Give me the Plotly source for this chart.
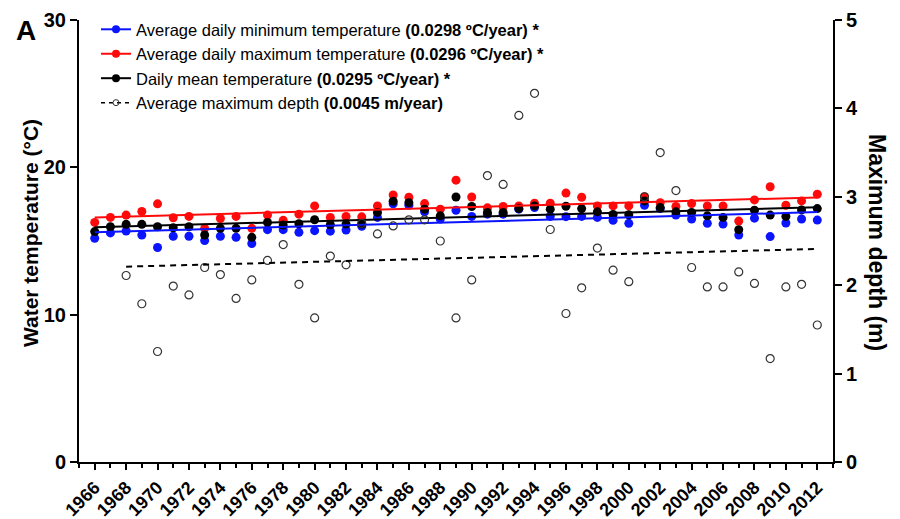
import plotly.graph_objects as go

years = list(range(1966, 2013))

t_min = [15.19, 15.55, 15.68, 15.41, 14.56, 15.32, 15.32, 15.03, 15.32, 15.25,
         14.83, 15.77, 15.77, 15.59, 15.70, 15.67, 15.75, 16.00, 16.60, 17.52,
         17.43, 16.98, 16.49, 17.09, 16.67, 16.82, 16.82, 17.16, 17.27, 16.67,
         16.65, 16.67, 16.60, 16.40, 16.20, 17.43, 17.20, 16.76, 16.49, 16.20,
         16.15, 15.41, 16.55, 15.30, 16.22, 16.49, 16.42]

t_max = [16.26, 16.60, 16.76, 17.00, 17.52, 16.58, 16.67, 15.86, 16.53, 16.67,
         15.86, 16.76, 16.40, 16.82, 17.38, 16.60, 16.67, 16.64, 17.38, 18.12,
         17.97, 17.54, 17.16, 19.13, 17.99, 17.25, 17.34, 17.38, 17.56, 17.56,
         18.25, 17.97, 17.38, 17.38, 17.38, 18.01, 17.60, 17.34, 17.54, 17.38,
         17.38, 16.35, 17.79, 18.68, 17.43, 17.72, 18.17]

t_mean = [15.64, 15.97, 16.13, 16.13, 15.97, 15.90, 15.97, 15.41, 15.86, 15.86,
          15.25, 16.26, 16.08, 16.17, 16.44, 16.10, 16.15, 16.15, 16.94, 17.70,
          17.60, 17.16, 16.71, 17.99, 17.34, 16.94, 16.94, 17.20, 17.38, 17.16,
          17.36, 17.20, 16.98, 16.80, 16.78, 17.72, 17.27, 16.98, 16.94, 16.71,
          16.60, 15.77, 17.09, 16.76, 16.67, 17.11, 17.20]

depth = [None, None, 2.11, 1.79, 1.25, 1.99, 1.89, 2.20, 2.12, 1.85,
         2.06, 2.28, 2.46, 2.01, 1.63, 2.33, 2.23, 2.70, 2.58, 2.67,
         2.74, 2.74, 2.50, 1.63, 2.06, 3.24, 3.14, 3.92, 4.17, 2.63,
         1.68, 1.97, 2.42, 2.17, 2.04, 3.00, 3.50, 3.07, 2.20, 1.98,
         1.98, 2.15, 2.02, 1.17, 1.98, 2.01, 1.55]

trend_years = [1966, 2012]
trend_min = [15.59, 16.96]
trend_max = [16.60, 17.96]
trend_mean = [15.93, 17.29]
depth_trend_years = [1968, 2012]
depth_trend = [2.21, 2.41]

labels = [
    "Average daily minimum temperature <b>(0.0298 ºC/year)</b> <b>*</b>",
    "Average daily maximum temperature <b>(0.0296 ºC/year)</b> <b>*</b>",
    "Daily mean temperature <b>(0.0295 ºC/year)</b> <b>*</b>",
    "Average maximum depth <b>(0.0045 m/year)</b>",
]

BLUE = "#0a14ff"
RED = "#ff0a0a"
BLACK = "#000000"
FONT = "Arial, Liberation Sans, sans-serif"

L, R, T, B = 79, 67, 16, 57
PW, PH = 900 - L - R, 519 - T - B


def px_x(p):
    return (p - L) / PW


def px_y(p):
    return (519 - B - p) / PH


fig = go.Figure()

# depth (right axis), drawn first so it sits beneath
fig.add_trace(go.Scatter(x=years, y=depth, mode="markers", yaxis="y2",
                         marker=dict(symbol="circle-open", size=8,
                                     color="#333333", line=dict(width=1.2)),
                         showlegend=False))
fig.add_trace(go.Scatter(x=depth_trend_years, y=depth_trend, mode="lines", yaxis="y2",
                         line=dict(color="black", width=2, dash="6px,5px"),
                         showlegend=False))

for vals, col in [(t_min, BLUE), (t_max, RED), (t_mean, BLACK)]:
    fig.add_trace(go.Scatter(x=years, y=vals, mode="markers",
                             marker=dict(color=col, size=9),
                             showlegend=False))

for tv, col in [(trend_min, BLUE), (trend_max, RED), (trend_mean, BLACK)]:
    fig.add_trace(go.Scatter(x=trend_years, y=tv, mode="lines",
                             line=dict(color=col, width=2),
                             showlegend=False))

# legend entries
for lab, col in zip(labels[:3], [BLUE, RED, BLACK]):
    fig.add_trace(go.Scatter(x=[None], y=[None], mode="lines+markers", name=lab,
                             marker=dict(color=col, size=8),
                             line=dict(color=col, width=2)))
fig.add_trace(go.Scatter(x=[None], y=[None], mode="lines+markers", name=labels[3],
                         marker=dict(symbol="circle-open", size=6, color="#333333"),
                         line=dict(color="black", width=1.5, dash="4px,4px")))

fig.update_layout(
    width=900, height=519,
    margin=dict(l=L, r=R, t=T, b=B),
    paper_bgcolor="white", plot_bgcolor="white",
    font=dict(family=FONT, color="black"),
    showlegend=True,
    legend=dict(x=px_x(96), y=px_y(8), xanchor="left", yanchor="top",
                bgcolor="rgba(0,0,0,0)", font=dict(size=16.5, family=FONT),
                tracegroupgap=0, itemwidth=30),
    xaxis=dict(range=[1965, 2013], tickmode="linear", tick0=1966, dtick=2,
               ticks="outside", ticklen=6, tickwidth=2, tickcolor="black",
               minor=dict(dtick=1, tick0=1966, ticks="outside", ticklen=4,
                          tickwidth=1.5, tickcolor="black"),
               tickangle=-45, tickfont=dict(size=18, family=FONT, weight="bold"),
               showline=True, linewidth=2, linecolor="black",
               showgrid=False, zeroline=False, automargin=False),
    yaxis=dict(range=[0, 30], tickvals=[0, 10, 20, 30],
               ticks="outside", ticklen=7, tickwidth=2, tickcolor="black",
               tickfont=dict(size=20, family=FONT, weight="bold"),
               showline=True, linewidth=2, linecolor="black",
               showgrid=False, zeroline=False, automargin=False),
    yaxis2=dict(range=[0, 5], tickvals=[0, 1, 2, 3, 4, 5], overlaying="y", side="right",
                ticks="outside", ticklen=7, tickwidth=2, tickcolor="black",
                tickfont=dict(size=20, family=FONT, weight="bold"),
                showline=True, linewidth=2, linecolor="black",
                showgrid=False, zeroline=False, automargin=False),
    annotations=[
        dict(text="<b>A</b>", x=px_x(26), y=px_y(27), xref="paper", yref="paper",
             xanchor="center", yanchor="middle",
             showarrow=False, font=dict(size=28, family=FONT)),
        dict(text="<b>Water temperature (°C)</b>", xref="paper", yref="paper",
             x=px_x(30), y=px_y(231), xanchor="center", yanchor="middle",
             textangle=-90, showarrow=False, font=dict(size=21, family=FONT)),
        dict(text="<b>Maximum depth (m)</b>", xref="paper", yref="paper",
             x=px_x(877), y=px_y(240), xanchor="center", yanchor="middle",
             textangle=90, showarrow=False, font=dict(size=23, family=FONT)),
    ],
)

fig.write_html("out.html")
